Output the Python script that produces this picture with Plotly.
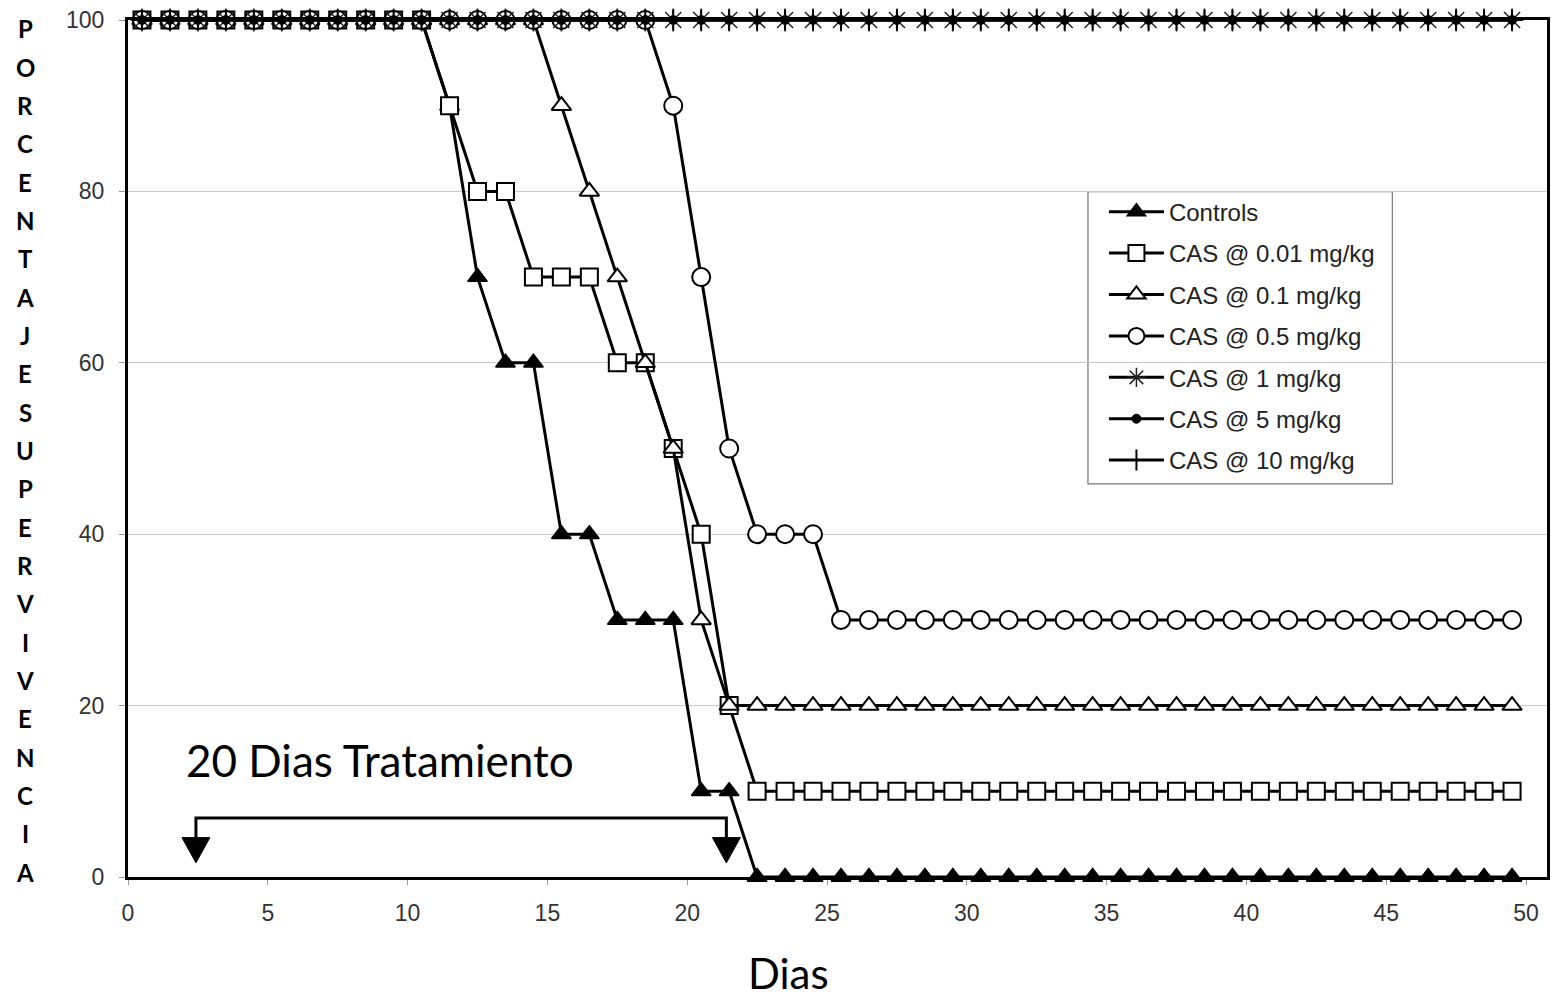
import plotly.graph_objects as go

# ---------------- data ----------------
days = [0.5, 1.5, 2.5, 3.5, 4.5, 5.5, 6.5, 7.5, 8.5, 9.5,
        10.5, 11.5, 12.5, 13.5, 14.5, 15.5, 16.5, 17.5, 18.5, 19.5,
        20.5, 21.5, 22.5, 23.5, 24.5, 25.5, 26.5, 27.5, 28.5, 29.5,
        30.5, 31.5, 32.5, 33.5, 34.5, 35.5, 36.5, 37.5, 38.5, 39.5,
        40.5, 41.5, 42.5, 43.5, 44.5, 45.5, 46.5, 47.5, 48.5, 49.5]

controls = [100, 100, 100, 100, 100, 100, 100, 100, 100, 100,
            100, 90, 70, 60, 60, 40, 40, 30, 30, 30,
            10, 10, 0, 0, 0, 0, 0, 0, 0, 0,
            0, 0, 0, 0, 0, 0, 0, 0, 0, 0,
            0, 0, 0, 0, 0, 0, 0, 0, 0, 0]

cas_001 = [100, 100, 100, 100, 100, 100, 100, 100, 100, 100,
           100, 90, 80, 80, 70, 70, 70, 60, 60, 50,
           40, 20, 10, 10, 10, 10, 10, 10, 10, 10,
           10, 10, 10, 10, 10, 10, 10, 10, 10, 10,
           10, 10, 10, 10, 10, 10, 10, 10, 10, 10]

cas_01 = [100, 100, 100, 100, 100, 100, 100, 100, 100, 100,
          100, 100, 100, 100, 100, 90, 80, 70, 60, 50,
          30, 20, 20, 20, 20, 20, 20, 20, 20, 20,
          20, 20, 20, 20, 20, 20, 20, 20, 20, 20,
          20, 20, 20, 20, 20, 20, 20, 20, 20, 20]

cas_05 = [100, 100, 100, 100, 100, 100, 100, 100, 100, 100,
          100, 100, 100, 100, 100, 100, 100, 100, 100, 90,
          70, 50, 40, 40, 40, 30, 30, 30, 30, 30,
          30, 30, 30, 30, 30, 30, 30, 30, 30, 30,
          30, 30, 30, 30, 30, 30, 30, 30, 30, 30]

cas_1 = [100, 100, 100, 100, 100, 100, 100, 100, 100, 100,
         100, 100, 100, 100, 100, 100, 100, 100, 100, 100,
         100, 100, 100, 100, 100, 100, 100, 100, 100, 100,
         100, 100, 100, 100, 100, 100, 100, 100, 100, 100,
         100, 100, 100, 100, 100, 100, 100, 100, 100, 100]

cas_5 = [100, 100, 100, 100, 100, 100, 100, 100, 100, 100,
         100, 100, 100, 100, 100, 100, 100, 100, 100, 100,
         100, 100, 100, 100, 100, 100, 100, 100, 100, 100,
         100, 100, 100, 100, 100, 100, 100, 100, 100, 100,
         100, 100, 100, 100, 100, 100, 100, 100, 100, 100]

cas_10 = [100, 100, 100, 100, 100, 100, 100, 100, 100, 100,
          100, 100, 100, 100, 100, 100, 100, 100, 100, 100,
          100, 100, 100, 100, 100, 100, 100, 100, 100, 100,
          100, 100, 100, 100, 100, 100, 100, 100, 100, 100,
          100, 100, 100, 100, 100, 100, 100, 100, 100, 100]

series_names = ["Controls", "CAS @ 0.01 mg/kg", "CAS @ 0.1 mg/kg", "CAS @ 0.5 mg/kg",
                "CAS @ 1 mg/kg", "CAS @ 5 mg/kg", "CAS @ 10 mg/kg"]
series_values = [controls, cas_001, cas_01, cas_05, cas_1, cas_5, cas_10]

x_ticks = [0, 5, 10, 15, 20, 25, 30, 35, 40, 45, 50]
y_ticks = [0, 20, 40, 60, 80, 100]

y_title_letters = "PORCENTAJESUPERVIVENCIA"

# ---------------- styles ----------------
marker_styles = [
    dict(symbol="triangle-up", size=17, color="black", line=dict(color="black", width=1.5)),
    dict(symbol="square", size=17, color="white", line=dict(color="black", width=2)),
    dict(symbol="triangle-up", size=17, color="white", line=dict(color="black", width=2)),
    dict(symbol="circle", size=18, color="white", line=dict(color="black", width=2)),
    dict(symbol="asterisk-open", size=19, color="#222", line=dict(color="#222", width=1.5)),
    dict(symbol="circle", size=9, color="black", line=dict(color="black", width=1)),
    dict(symbol="cross-thin-open", size=15, color="black", line=dict(color="black", width=2)),
]

fig = go.Figure()
for i, (name, vals) in enumerate(zip(series_names, series_values)):
    fig.add_trace(go.Scatter(
        x=days, y=vals, name=name, mode="lines+markers",
        line=dict(color="black", width=3),
        marker=marker_styles[i],
        cliponaxis=False,
        legendgroup=f"g{i}",
    ))

axis_font = dict(family="Liberation Sans, Arial, sans-serif", size=23, color="#333")

# plot area in page pixels: left 128, right 1550, top 18, bottom 877
PL, PR, PT, PB = 128, 1550, 18, 877
PW, PH = PR - PL, PB - PT


def px(xp):
    return (xp - PL) / PW


def py(yp):
    return (PB - yp) / PH


fig.update_layout(
    width=1557, height=1001,
    margin=dict(l=PL, r=1557 - PR, t=PT, b=1001 - PB),
    plot_bgcolor="white", paper_bgcolor="white",
    showlegend=True,
    legend=dict(
        x=px(1106), y=py(188), xanchor="left", yanchor="top",
        bgcolor="rgba(0,0,0,0)", borderwidth=0,
        font=dict(family="Liberation Sans, Arial, sans-serif", size=24, color="#222"),
        traceorder="grouped", tracegroupgap=7.2, itemwidth=55,
    ),
    xaxis=dict(
        range=[0, 50.75], tickmode="array", tickvals=x_ticks,
        ticks="outside", ticklen=5, tickcolor="#999",
        showline=True, linecolor="black", linewidth=3, mirror=True,
        showgrid=False, zeroline=False, tickfont=axis_font,
        ticklabelstandoff=8,
    ),
    yaxis=dict(
        range=[0, 100], tickmode="array", tickvals=y_ticks,
        ticks="outside", ticklen=6, tickcolor="#999",
        showline=True, linecolor="black", linewidth=3, mirror=True,
        showgrid=True, gridcolor="#c8c8c8", gridwidth=1.2,
        zeroline=False, tickfont=axis_font, ticklabelstandoff=10,
    ),
)

# legend box (drawn as a shape so it can be sized like the reference)
fig.add_shape(type="rect", xref="paper", yref="paper", layer="below",
              x0=px(1090), x1=px(1395), y0=py(483), y1=py(190),
              fillcolor="white", line=dict(color="#777", width=1.2))

# vertical y-axis title (stacked letters)
n = len(y_title_letters)
top_px, bot_px = 27, 872
for k, ch in enumerate(y_title_letters):
    ypx = top_px + (bot_px - top_px) * k / (n - 1)
    fig.add_annotation(
        text=f"<b>{ch}</b>", xref="paper", yref="paper",
        x=px(25), y=py(ypx),
        xanchor="center", yanchor="middle", showarrow=False,
        font=dict(family="Lato, Open Sans, sans-serif", size=24, color="black"),
    )

# x-axis title
fig.add_annotation(
    text="Dias", xref="paper", yref="paper",
    x=px(790), y=py(973),
    xanchor="center", yanchor="middle", showarrow=False,
    font=dict(family="Lato, Open Sans, sans-serif", size=42, color="black"),
)

# treatment label
fig.add_annotation(
    text="20 Dias Tratamiento", xref="paper", yref="paper",
    x=px(184), y=py(760),
    xanchor="left", yanchor="middle", showarrow=False,
    font=dict(family="Lato, Open Sans, sans-serif", size=44, color="black"),
)

# bracket with arrows
fig.add_shape(type="path", xref="x", yref="y",
              path="M 2.43 4.6 L 2.43 6.87 L 21.4 6.87 L 21.4 4.6",
              line=dict(color="black", width=3))
for xc in (2.43, 21.4):
    fig.add_shape(type="path", xref="x", yref="y",
                  path=f"M {xc-0.5} 4.6 L {xc+0.5} 4.6 L {xc} 1.65 Z",
                  fillcolor="black", line=dict(color="black", width=1))

fig.write_html("out.html", config={"displayModeBar": False},
               post_script="document.body.style.margin='0';")
